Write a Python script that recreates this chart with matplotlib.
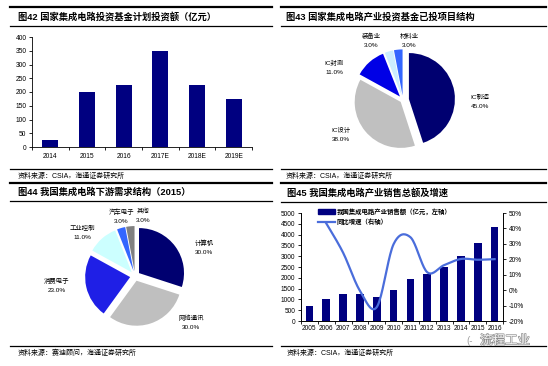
import numpy as np
import matplotlib
matplotlib.use("Agg")
import matplotlib.pyplot as plt
from matplotlib.lines import Line2D
from matplotlib.patches import Patch
from matplotlib.ticker import FuncFormatter, MultipleLocator
import matplotlib.patheffects as pe

plt.rcParams['font.family'] = ['Liberation Sans', 'Noto Sans CJK SC', 'DejaVu Sans']

# chart 42
years1 = ['2014', '2015', '2016', '2017E', '2018E', '2019E']
invest = [25, 200, 225, 350, 225, 175]

# chart 43
fund_labels = ['IC制造', 'IC设计', 'IC封测', '装备业', '材料业']
fund_share = [45.0, 38.0, 11.0, 3.0, 3.0]

# chart 44
demand_labels = ['计算机', '网络通讯', '消费电子', '工业控制', '汽车电子', '其他']
demand_share = [30.0, 30.0, 23.0, 11.0, 3.0, 3.0]

# chart 45
years4 = ['2005', '2006', '2007', '2008', '2009', '2010', '2011', '2012',
          '2013', '2014', '2015', '2016']
sales = [702, 1006, 1251, 1246, 1109, 1440, 1934, 2158, 2509, 3015, 3610, 4336]
growth = [np.nan, 43.3, 24.3, -0.4, -11.0, 29.8, 34.3, 11.6, 16.2, 20.2, 19.7, 20.1]

W, H = 548, 366
NAVY = '#000080'


def fx(x):
    return x / W


def fy(y):
    return 1 - y / H


def box(x0, y0, x1, y1):
    return [fx(x0), fy(y1), (x1 - x0) / W, (y1 - y0) / H]


def hline(fig, x0, x1, y, lw):
    fig.add_artist(Line2D([fx(x0), fx(x1)], [fy(y), fy(y)], color='black', lw=lw,
                          transform=fig.transFigure))


def smooth(xs, ys, n=20):
    # catmull-rom like excel's smoothed line
    pts = np.column_stack([xs, ys]).astype(float)
    p = np.vstack([pts[0], pts, pts[-1]])
    t = np.linspace(0, 1, n, endpoint=False)[:, None]
    out = []
    for i in range(1, len(p) - 2):
        p0, p1, p2, p3 = p[i - 1], p[i], p[i + 1], p[i + 2]
        seg = 0.5 * (2 * p1 + (-p0 + p2) * t + (2 * p0 - 5 * p1 + 4 * p2 - p3) * t ** 2
                     + (-p0 + 3 * p1 - 3 * p2 + p3) * t ** 3)
        out.append(seg)
    out.append(pts[-1][None])
    c = np.vstack(out)
    return c[:, 0], c[:, 1]


fig = plt.figure(figsize=(W / 100, H / 100), dpi=100)

# panel frames, titles and sources
panels = [
    (10, 272, 7, 26, 169, 18, '图42 国家集成电路投资基金计划投资额（亿元）', '资料来源：CSIA，海通证券研究所'),
    (281, 546, 7, 26, 169, 286, '图43 国家集成电路产业投资基金已投项目结构', '资料来源：CSIA，海通证券研究所'),
    (10, 272, 183, 201, 346, 18, '图44 我国集成电路下游需求结构（2015）', '资料来源：赛迪顾问，海通证券研究所'),
    (281, 546, 183, 202, 346, 287, '图45 我国集成电路产业销售总额及增速', '资料来源：CSIA，海通证券研究所'),
]
for x0, x1, ytop, yline, ybot, xt, title, src in panels:
    hline(fig, x0, x1, ytop, 1.6)
    hline(fig, x0, x1, yline, 0.9)
    hline(fig, x0, x1, ybot, 0.9)
    fig.text(fx(xt), fy((ytop + yline) / 2 + 0.5), title, fontsize=6.7, fontweight='bold',
             ha='left', va='center')
    fig.text(fx(xt), fy(ybot + 7), src, fontsize=5.0, ha='left', va='center')

# chart 42 bars
ax1 = fig.add_axes(box(32, 37, 252, 147))
ax1.bar(range(len(years1)), invest, width=0.44, color=NAVY)
ax1.set_xlim(-0.5, len(years1) - 0.5)
ax1.set_ylim(0, 400)
ax1.yaxis.set_major_locator(MultipleLocator(50))
ax1.set_xticks(range(len(years1)))
ax1.set_xticklabels(years1)
ax1.set_xticks(np.arange(-0.5, len(years1)), minor=True)
ax1.tick_params(axis='x', which='major', length=0, labelsize=4.8, pad=4)
ax1.tick_params(axis='x', which='minor', length=2.5, width=0.6)
ax1.tick_params(axis='y', length=2.5, width=0.6, labelsize=4.8, pad=1.5)
for s in ['top', 'right']:
    ax1.spines[s].set_visible(False)
for s in ['left', 'bottom']:
    ax1.spines[s].set_linewidth(0.6)


def pie_panel(cx, cy, r, shares, labels, colors, explode, label_pos):
    half = r + 12
    ax = fig.add_axes(box(cx - half, cy - half, cx + half, cy + half))
    ax.pie(shares, colors=colors, startangle=90, counterclock=False, explode=explode,
           radius=1, wedgeprops=dict(linewidth=0))
    lim = half / r
    ax.set_xlim(-lim, lim)
    ax.set_ylim(-lim, lim)
    ax.set_aspect('equal')
    ax.axis('off')
    for name, val, (x, y) in zip(labels, shares, label_pos):
        fig.text(fx(x), fy(y), '%s\n%.1f%%' % (name, val), fontsize=4.6, ha='center',
                 va='center', linespacing=2.0)


pie_panel(403, 100, 46, fund_share, fund_labels,
          ['#000070', '#c0c0c0', '#0000e6', '#cceeff', '#3366ff'],
          [0.13, 0.065, 0.1, 0.1, 0.1],
          [(480, 101), (341, 134.5), (334, 67.5), (371, 40.5), (409, 40.5)])

pie_panel(135, 276, 45, demand_share, demand_labels,
          ['#000070', '#bfbfbf', '#1f1fe6', '#ccffff', '#3366ff', '#808080'],
          [0.11, 0.11, 0.11, 0.11, 0.11, 0.11],
          [(204, 247), (191, 322), (57, 285), (82, 232.5), (121, 216), (143.5, 215.5)])

# chart 45 bars + growth line
ax4 = fig.add_axes(box(301, 213, 503, 321))
xs = np.arange(len(years4))
ax4.bar(xs, sales, width=0.45, color=NAVY, zorder=2)
ax4.set_xlim(-0.5, len(years4) - 0.5)
ax4.set_ylim(0, 5000)
ax4.yaxis.set_major_locator(MultipleLocator(500))
ax4.set_xticks(xs)
ax4.set_xticklabels(years4)
ax4.set_xticks(np.arange(-0.5, len(years4)), minor=True)
ax4.tick_params(axis='x', which='major', length=0, labelsize=4.7, pad=3)
ax4.tick_params(axis='x', which='minor', length=2.5, width=0.6)
ax4.tick_params(axis='y', length=2.5, width=0.6, labelsize=4.7, pad=1.5)
ax4.spines['top'].set_visible(False)
for s in ['left', 'bottom', 'right']:
    ax4.spines[s].set_linewidth(0.6)

ax4r = ax4.twinx()
gx = [x for x, g in zip(xs, growth) if not np.isnan(g)]
gy = [g for g in growth if not np.isnan(g)]
sx, sy = smooth(gx, gy)
ax4r.plot(sx, sy, color='#4a6ddb', lw=1.6, zorder=3)
ax4r.set_ylim(-20, 50)
ax4r.yaxis.set_major_locator(MultipleLocator(10))
ax4r.yaxis.set_major_formatter(FuncFormatter(lambda v, p: '%d%%' % round(v)))
ax4r.tick_params(axis='y', length=2.5, width=0.6, labelsize=4.7, pad=1.5)
ax4r.spines['top'].set_visible(False)
for s in ['left', 'bottom', 'right']:
    ax4r.spines[s].set_linewidth(0.6)

handles = [Patch(color=NAVY), Line2D([], [], color='#4a6ddb', lw=1.6)]
fig.legend(handles, ['我国集成电路产业销售额（亿元，左轴）', '同比增速（右轴）'],
           loc='upper left', bbox_to_anchor=(fx(318), fy(208)), frameon=False,
           prop={'size': 4.6, 'weight': 'bold'}, handlelength=2.6, handletextpad=0.3,
           labelspacing=0.55, borderpad=0, borderaxespad=0)

# watermark
fig.text(fx(505), fy(341), '流程工业', fontsize=9, ha='center', va='center', color='#f4f4f4',
         path_effects=[pe.withStroke(linewidth=0.9, foreground='#8a8a8a')])
fig.text(fx(470), fy(341), '(-', fontsize=7, ha='center', va='center', color='#a0a0a0')

fig.savefig('out.png', dpi=100)
